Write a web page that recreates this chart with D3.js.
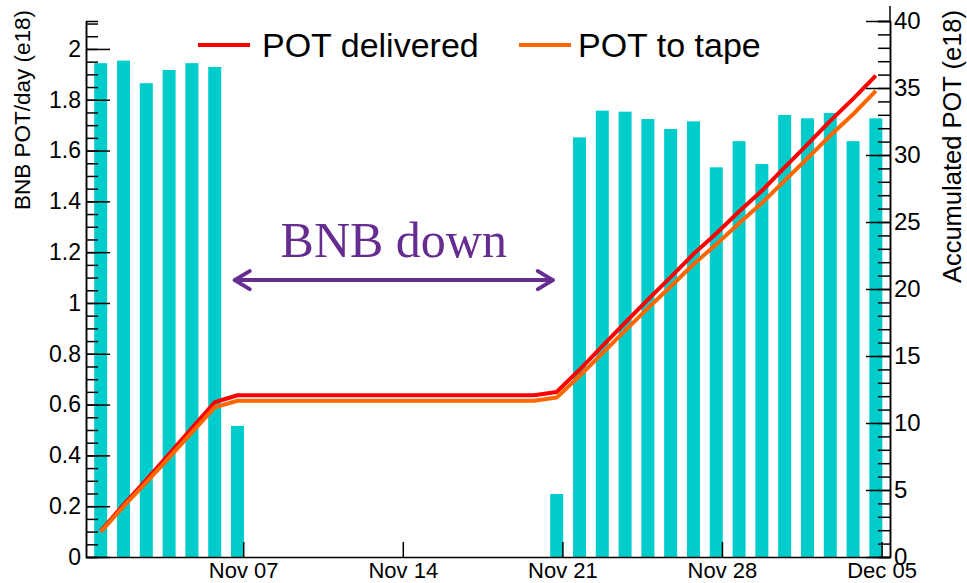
<!DOCTYPE html>
<html>
<head>
<meta charset="utf-8">
<script src="https://cdn.jsdelivr.net/npm/d3@7"></script>
<style>
  body { margin: 0; background: #fff; }
  svg { display: block; }
</style>
</head>
<body>
<div id="chart"></div>
<script>
// daily POT bars (left axis, e18)
const barDays = ["2015-11-01", "2015-11-02", "2015-11-03", "2015-11-04", "2015-11-05", "2015-11-06", "2015-11-07",
  "2015-11-21", "2015-11-22", "2015-11-23", "2015-11-24", "2015-11-25", "2015-11-26", "2015-11-27", "2015-11-28",
  "2015-11-29", "2015-11-30", "2015-12-01", "2015-12-02", "2015-12-03", "2015-12-04", "2015-12-05"]
const barPot = [1.944, 1.954, 1.865, 1.917, 1.944, 1.929, 0.516,
  0.248, 1.652, 1.757, 1.753, 1.724, 1.685, 1.715, 1.534,
  1.637, 1.547, 1.740, 1.727, 1.748, 1.637, 1.727]

// accumulated POT (right axis, e18)
const lineDays = ["2015-11-01", "2015-11-02", "2015-11-03", "2015-11-04", "2015-11-05", "2015-11-06", "2015-11-07",
  "2015-11-08", "2015-11-09", "2015-11-10", "2015-11-11", "2015-11-12", "2015-11-13", "2015-11-14", "2015-11-15",
  "2015-11-16", "2015-11-17", "2015-11-18", "2015-11-19", "2015-11-20", "2015-11-21", "2015-11-22", "2015-11-23",
  "2015-11-24", "2015-11-25", "2015-11-26", "2015-11-27", "2015-11-28", "2015-11-29", "2015-11-30", "2015-12-01",
  "2015-12-02", "2015-12-03", "2015-12-04", "2015-12-05"]
const potDelivered = [1.94, 3.90, 5.76, 7.68, 9.62, 11.55, 12.07,
  12.07, 12.07, 12.07, 12.07, 12.07, 12.07, 12.07, 12.07,
  12.07, 12.07, 12.07, 12.07, 12.07, 12.32, 13.97, 15.73,
  17.48, 19.21, 20.89, 22.61, 24.14, 25.78, 27.33, 29.07,
  30.80, 32.55, 34.19, 35.92]
const potToTape = [1.87, 3.77, 5.57, 7.42, 9.30, 11.16, 11.66,
  11.66, 11.66, 11.66, 11.66, 11.66, 11.66, 11.66, 11.66,
  11.66, 11.66, 11.66, 11.66, 11.66, 11.90, 13.50, 15.20,
  16.89, 18.56, 20.19, 21.85, 23.33, 24.91, 26.41, 28.09,
  29.76, 31.45, 33.04, 34.78]

const xTicks = ["2015-11-07", "2015-11-14", "2015-11-21", "2015-11-28", "2015-12-05"]
const series = ["POT delivered", "POT to tape"]
const seriesColors = ["#ff0000", "#ff6600"]

// "BNB down" annotation
const downFrom = "2015-11-06T15:00Z"
const downTo = "2015-11-20T14:00Z"
const downLevel = 1.09
const downLabelLevel = 1.18

const width = 967
const height = 583
const margin = {top: 21, left: 86, right: 77, bottom: 26}
const DAY = 864e5
const font = '"Liberation Sans", Arial, Helvetica, sans-serif'

const svg = d3.select("#chart").append("svg")
  .attr("width", width)
  .attr("height", height)
  .attr("viewBox", `0,0,${width},${height}`)

svg.append("rect").attr("width", width).attr("height", height).attr("fill", "#fff")

const x = d3.scaleTime()
  .domain([new Date("2015-10-31T02:31Z"), new Date("2015-12-05T08:53Z")])
  .range([margin.left, width - margin.right])
const yL = d3.scaleLinear().domain([0, 2.11]).range([height - margin.bottom, margin.top])
const yR = d3.scaleLinear().domain([0, 40]).range([height - margin.bottom, margin.top])

// day bins sit a quarter day before the date tick
const shift = (d, k) => new Date(+new Date(d + "T00:00Z") - 0.25 * DAY + (k || 0) * DAY)
const halfBar = 0.285

const bars = barDays.map((d, i) => ({day: d, value: barPot[i]}))
svg.append("g")
    .attr("fill", "#00cccc")
  .selectAll("rect").data(bars).enter().append("rect")
    .attr("x", d => x(shift(d.day, -halfBar)))
    .attr("width", d => x(shift(d.day, halfBar)) - x(shift(d.day, -halfBar)))
    .attr("y", d => yL(d.value))
    .attr("height", d => yL(0) - yL(d.value))

// accumulated lines
const line = d3.line()
  .x(d => x(shift(d.day)))
  .y(d => yR(d.value))
const lineData = [potDelivered, potToTape].map(vals => lineDays.map((d, i) => ({day: d, value: vals[i]})))
svg.append("g").selectAll("path").data(lineData).enter().append("path")
  .attr("d", line)
  .attr("fill", "none")
  .attr("stroke", (d, i) => seriesColors[i])
  .attr("stroke-width", 4)
  .attr("stroke-linejoin", "round")

// axes
const styleAxis = (g, size) => g
  .attr("font-family", font)
  .attr("font-size", size)
  .call(g => g.selectAll("line").attr("stroke", "#000").attr("stroke-width", 1.5))
  .call(g => g.selectAll(".domain").attr("stroke", "#000").attr("stroke-width", 1.5))
  .call(g => g.selectAll("text").attr("fill", "#000"))

const bottom = height - margin.bottom
svg.append("g")
  .attr("transform", `translate(0,${bottom})`)
  .call(d3.axisBottom(x)
    .tickValues(xTicks.map(d => new Date(d + "T00:00Z")))
    .tickFormat(d3.utcFormat("%b %d"))
    .tickSizeInner(-15).tickSizeOuter(0).tickPadding(5))
  .call(g => styleAxis(g, 22))

svg.append("g")
  .attr("transform", `translate(${margin.left},0)`)
  .call(d3.axisLeft(yL).tickValues(d3.range(0, 2.11, 0.05)).tickFormat("").tickSize(-12))
  .call(g => styleAxis(g, 22))
svg.append("g")
  .attr("transform", `translate(${margin.left},0)`)
  .call(d3.axisLeft(yL).tickValues(d3.range(0, 2.01, 0.2)).tickFormat(d => +d.toFixed(1) + "")
    .tickSizeInner(-24).tickSizeOuter(0).tickPadding(5))
  .call(g => styleAxis(g, 23))

const right = width - margin.right
svg.append("g")
  .attr("transform", `translate(${right},0)`)
  .call(d3.axisRight(yR).tickValues(d3.range(0, 41, 1)).tickFormat("").tickSize(-12))
  .call(g => styleAxis(g, 22))
svg.append("g")
  .attr("transform", `translate(${right},0)`)
  .call(d3.axisRight(yR).tickValues(d3.range(0, 41, 5)).tickSizeInner(-24).tickSizeOuter(0).tickPadding(4))
  .call(g => styleAxis(g, 24))
svg.append("line")
  .attr("x1", right).attr("x2", right).attr("y1", 6).attr("y2", margin.top)
  .attr("stroke", "#000").attr("stroke-width", 1.5)

// axis titles
svg.append("text")
  .attr("transform", "translate(22,10) rotate(-90)")
  .attr("text-anchor", "end").attr("dy", "0.35em")
  .attr("font-family", font).attr("font-size", 22.5)
  .text("BNB POT/day (e18)")
svg.append("text")
  .attr("transform", "translate(952,10) rotate(-90)")
  .attr("text-anchor", "end").attr("dy", "0.35em")
  .attr("font-family", font).attr("font-size", 25.5)
  .text("Accumulated POT (e18)")

// legend
const legendX = [198, 519]
const legend = svg.append("g").selectAll("g").data(series).enter().append("g")
  .attr("transform", (d, i) => `translate(${legendX[i]},45)`)
legend.append("line")
  .attr("x1", 0).attr("x2", 52)
  .attr("stroke", (d, i) => seriesColors[i]).attr("stroke-width", 4)
legend.append("text")
  .attr("x", (d, i) => i == 0 ? 64 : 59).attr("y", 12)
  .attr("font-family", font).attr("font-size", 34)
  .text(d => d)

// BNB down annotation
const purple = "#662d91"
const ax1 = x(new Date(downFrom)), ax2 = x(new Date(downTo)), ay = yL(downLevel)
svg.append("path")
  .attr("d", `M${ax1},${ay}L${ax2},${ay}M${ax1 + 15},${ay - 9}L${ax1},${ay}L${ax1 + 15},${ay + 9}` +
    `M${ax2 - 15},${ay - 9}L${ax2},${ay}L${ax2 - 15},${ay + 9}`)
  .attr("fill", "none").attr("stroke", purple).attr("stroke-width", 4)
  .attr("stroke-linecap", "round").attr("stroke-linejoin", "round")
svg.append("text")
  .attr("x", (ax1 + ax2) / 2).attr("y", yL(downLabelLevel))
  .attr("text-anchor", "middle")
  .attr("font-family", '"Liberation Serif", "Times New Roman", serif').attr("font-size", 50)
  .attr("fill", purple)
  .text("BNB down")
</script>
</body>
</html>
